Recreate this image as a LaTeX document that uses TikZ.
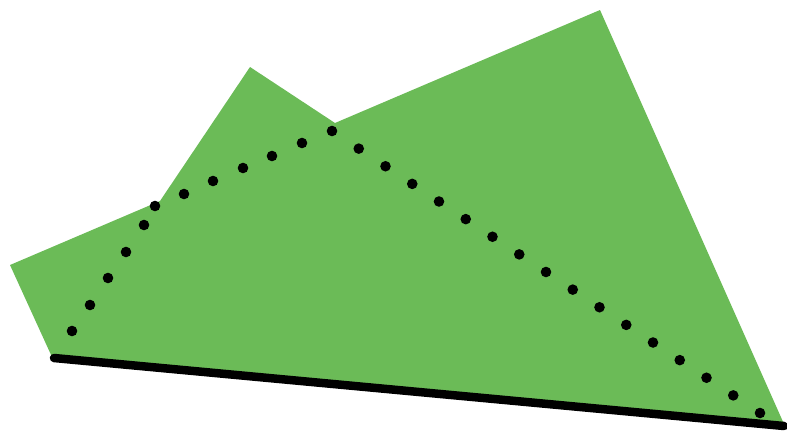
\documentclass[tikz,border=0pt]{standalone}
\definecolor{leaf}{RGB}{107,187,87}
\tikzset{dotmark/.style={fill=black}}
\begin{document}
\begin{tikzpicture}[x=1pt,y=-1pt]
\useasboundingbox (0,0) rectangle (787,432);
\fill[leaf] (10,265) -- (160,201) -- (250,67) -- (335,123) -- (600,10) -- (784,424) -- (52,357) -- cycle;
\coordinate (a) at (54,358);
\coordinate (b) at (784,426);
\draw[line width=8.5pt, line cap=round] (a) -- (b);
\foreach \p in {(72,331),(90,305),(108,278),(126,252),(144,225),(155,206),(184,194),(213,181),(243,168),(272,156),(302,143),(332,131)}
  \fill[dotmark] \p circle (5.3);
\foreach \i in {1,...,16}
  \fill[dotmark] ({332+26.75*\i},{131+17.625*\i}) circle (5.3);
\end{tikzpicture}
\end{document}
